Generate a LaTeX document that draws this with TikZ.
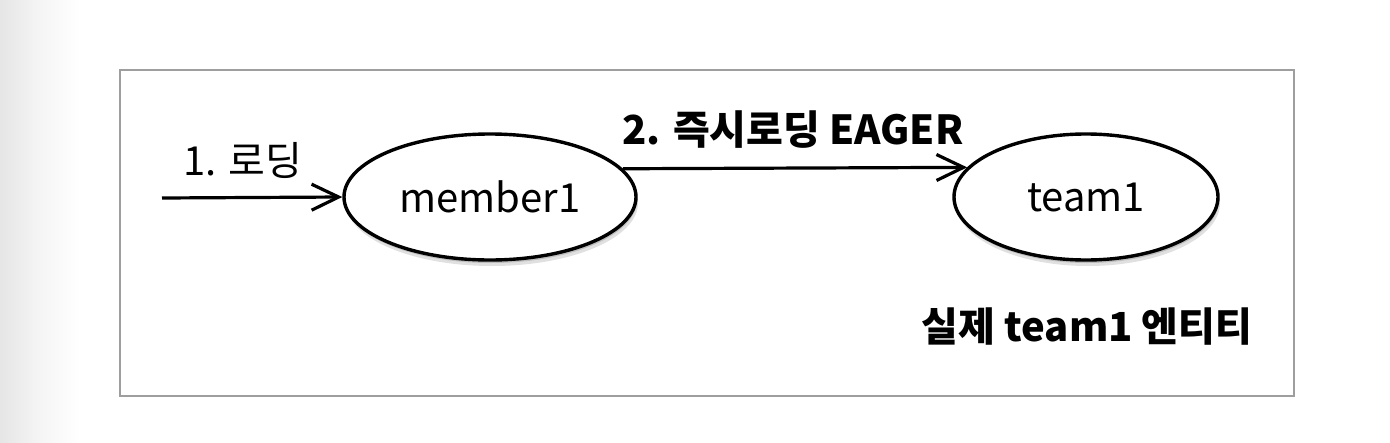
\documentclass[tikz,border=0pt]{standalone}
\usepackage{fontspec}
\newfontfamily\kr{Noto Sans CJK KR}
\usetikzlibrary{arrows.meta,shapes.geometric,shadows}
\tikzset{
  ent/.style={ellipse, draw=black, line width=3.4pt, fill=white, inner sep=0pt,
    drop shadow={shadow xshift=1pt, shadow yshift=-3pt, opacity=0.15, fill=black},
    drop shadow={shadow xshift=2pt, shadow yshift=-6pt, opacity=0.12, fill=black}},
  conn/.style={line width=3.2pt, -{Straight Barb[length=27pt,width=26pt,line width=3.2pt]}},
  lighttxt/.style={font=\kr\fontsize{40}{42}\selectfont},
  boldtxt/.style={font=\kr\bfseries\fontsize{40}{42}\selectfont},
}
\begin{document}
\begin{tikzpicture}[x=1pt,y=-1pt]
\useasboundingbox (0,0) rectangle (1390,442);
\fill[white] (0,0) rectangle (1390,442);
\shade[left color=black!10, right color=white, middle color=black!4] (0,0) rectangle (80,442);
\node[draw=black!38, line width=1.6pt, minimum width=1174pt, minimum height=326pt, inner sep=0pt, anchor=north west] (frame) at (119,69) {};
\node[ent, minimum width=292pt, minimum height=126pt] (member1) at (490,197) {};
\node[lighttxt] (m1txt) at (member1.center) {member1};
\node[ent, minimum width=264pt, minimum height=126pt] (team1) at (1086,197) {};
\node[lighttxt] (t1txt) at (team1.center) {team1};
\coordinate (start) at (162,198);
\draw[conn] (start) -- (member1.west);
\node[lighttxt] (l1) at (243,160) {1. 로딩};
\draw[conn] (member1.12.6) -- (team1.166.1);
\node[boldtxt] (l2) at (793,130) {2. 즉시로딩 EAGER};
\node[boldtxt] (l3) at (1087,327) {실제 team1 엔티티};
\end{tikzpicture}
\end{document}
